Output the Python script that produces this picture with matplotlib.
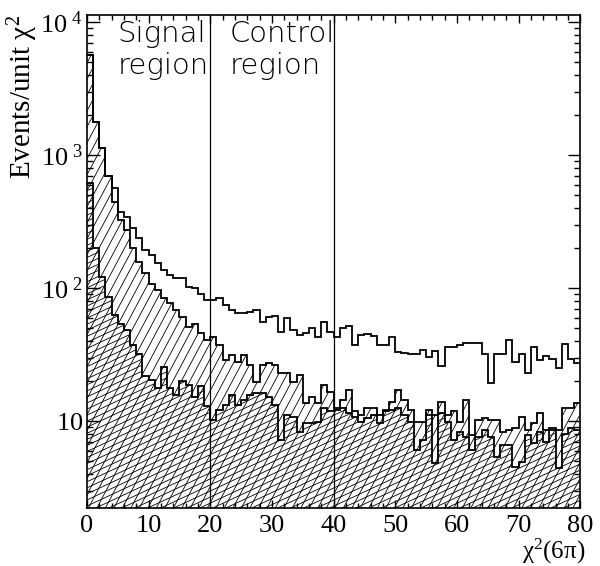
import numpy as np
import matplotlib.pyplot as plt
from matplotlib.collections import LineCollection
from matplotlib.ticker import FixedLocator, MultipleLocator, NullFormatter

plt.rcParams['mathtext.fontset'] = 'custom'
plt.rcParams['mathtext.rm'] = 'Liberation Serif'
plt.rcParams['mathtext.it'] = 'Liberation Serif'
plt.rcParams['mathtext.default'] = 'rm'
plt.rcParams['font.family'] = ['Liberation Serif', 'DejaVu Serif']

# histogram data, 1 unit bins from 0 to 80
edges = np.arange(0, 81, 1)

total = [5650, 1780, 1123, 695, 562, 375, 344, 281, 237, 193,
         177, 153, 137, 125, 118, 118, 102, 99.5, 91, 81,
         81.3, 83.6, 74.5, 68.4, 65.2, 64.6, 66.4, 68.4, 55.8, 60.9,
         61.6, 47.0, 59.2, 48.3, 44.3, 45.6, 49.8, 42.6, 55.8, 47.0,
         42.6, 49.8, 51.8, 37.2, 44.3, 45.1, 43.8, 37.2, 37.2, 43.0,
         33.2, 32.3, 31.9, 31.9, 34.2, 30.1, 33.8, 26.1, 36.2, 36.2,
         37.2, 38.8, 38.4, 38.8, 31.9, 19.2, 31.9, 31.9, 40.7, 27.9,
         31.9, 23.1, 36.2, 28.8, 31.0, 29.1, 24.9, 37.9, 29.1, 27.2]

middle = [5650, 1780, 1123, 695, 446, 324, 273, 199, 158, 129,
          108, 97, 84, 77, 68, 61, 51, 54, 46, 41,
          43.1, 37.2, 28.7, 31.3, 27.9, 31.3, 26.4, 19.8, 26.4, 27.2,
          26.4, 23.0, 22.8, 19.8, 22.2, 13.6, 15.2, 13.6, 18.7, 16.6,
          12.5, 14.4, 17.1, 11.8, 11.1, 12.5, 12.5, 11.1, 12.1, 14.0,
          17.1, 14.4, 12.1, 9.9, 9.9, 12.1, 11.1, 14.0, 11.1, 11.8,
          9.9, 14.4, 7.85, 10.2, 10.5, 10.2, 10.2, 8.3, 8.6, 8.8,
          10.8, 8.6, 9.6, 11.4, 8.6, 8.8, 8.6, 12.5, 12.5, 13.6]

bottom = [612, 200, 122, 86, 63, 54, 48, 37, 32, 22,
          20.5, 17.7, 25.6, 17.7, 15.6, 20, 18.7, 15.2, 18.3, 13.0,
          10.2, 12.1, 13.3, 15.6, 13.3, 14.4, 15.6, 16.2, 16.2, 15.2,
          13.3, 7.2, 11.1, 10.8, 8.3, 9.6, 9.6, 9.9, 12.5, 11.8,
          12.1, 12.5, 11.4, 10.8, 9.9, 10.5, 11.1, 9.6, 11.8, 12.1,
          12.5, 11.1, 9.9, 6.05, 7.2, 11.1, 4.8, 11.4, 9.9, 7.2,
          8.3, 7.6, 6.05, 7.6, 8.6, 7.6, 5.4, 6.6, 6.6, 4.5,
          4.9, 7.85, 6.8, 8.3, 7.0, 8.6, 4.4, 8.0, 8.8, 8.6]

ytick_vals = [10, 100, 1000, 10000]
ytick_labels = [r'$10$', r'$10^{\ 2}$', r'$10^{\ 3}$', r'$10^{\ 4}$']
xtick_vals = [0, 10, 20, 30, 40, 50, 60, 70, 80]

fig = plt.figure(figsize=(6, 5.66), dpi=100)
ax = fig.add_axes([0.145, 0.1025, 0.822, 0.871])
ax.set_yscale('log')
ax.set_xlim(0, 80)
ax.set_ylim(2.22, 11300)


def hatch(ax, clip, angle, step_px, lw=0.6):
    # draw parallel lines in axes coords, clipped to a patch
    bb = ax.get_position()
    w = bb.width * fig.get_figwidth() * fig.dpi
    h = bb.height * fig.get_figheight() * fig.dpi
    t = np.tan(np.radians(angle))
    dx = h / t
    segs = []
    for c in np.arange(-dx - step_px, w + step_px, step_px):
        segs.append([(c / w, 0), ((c + dx) / w, 1)])
    lc = LineCollection(segs, colors='k', linewidths=lw, transform=ax.transAxes)
    ax.add_collection(lc)
    lc.set_clip_path(clip)


mid_patch = ax.stairs(middle, edges, baseline=1.0, fill=True,
                      facecolor='none', edgecolor='none')
bot_patch = ax.stairs(bottom, edges, baseline=1.0, fill=True,
                      facecolor='none', edgecolor='none')
hatch(ax, mid_patch, 62, 8.5)
hatch(ax, bot_patch, 25, 13)

ax.stairs(total, edges, baseline=None, color='k', lw=1.3)
ax.stairs(middle, edges, baseline=None, color='k', lw=1.3)
ax.stairs(bottom, edges, baseline=None, color='k', lw=1.3)

ax.axvline(20, color='k', lw=0.9)
ax.axvline(40, color='k', lw=0.9)

tr = ax.get_xaxis_transform()
ax.text(5, 0.99, 'Signal\nregion', transform=tr, va='top', ha='left',
        family='DejaVu Sans', weight='light', fontsize=21, linespacing=1.2)
ax.text(23.2, 0.99, 'Control\nregion', transform=tr, va='top', ha='left',
        family='DejaVu Sans', weight='light', fontsize=21, linespacing=1.2)

ax.xaxis.set_major_locator(FixedLocator(xtick_vals))
ax.xaxis.set_minor_locator(MultipleLocator(2))
ax.set_xticklabels([str(v) for v in xtick_vals])
ax.yaxis.set_major_locator(FixedLocator(ytick_vals))
ax.set_yticklabels(ytick_labels)
ax.yaxis.set_minor_formatter(NullFormatter())

ax.tick_params(which='both', direction='in', top=True, right=True,
               labelsize=19, width=1)
ax.tick_params(axis='x', which='major', length=6, pad=5)
ax.tick_params(axis='x', which='minor', length=3.5)
ax.tick_params(axis='y', which='major', length=9, pad=3)
ax.tick_params(axis='y', which='minor', length=4)
for s in ax.spines.values():
    s.set_linewidth(1.2)

ax.set_ylabel('Events/unit χ$^{2}$', fontsize=21, loc='top', labelpad=0)
fig.text(0.975, 0.013, 'χ$^{2}$(6π)', fontsize=18, ha='right', va='baseline')

fig.savefig('out.png', dpi=100)
